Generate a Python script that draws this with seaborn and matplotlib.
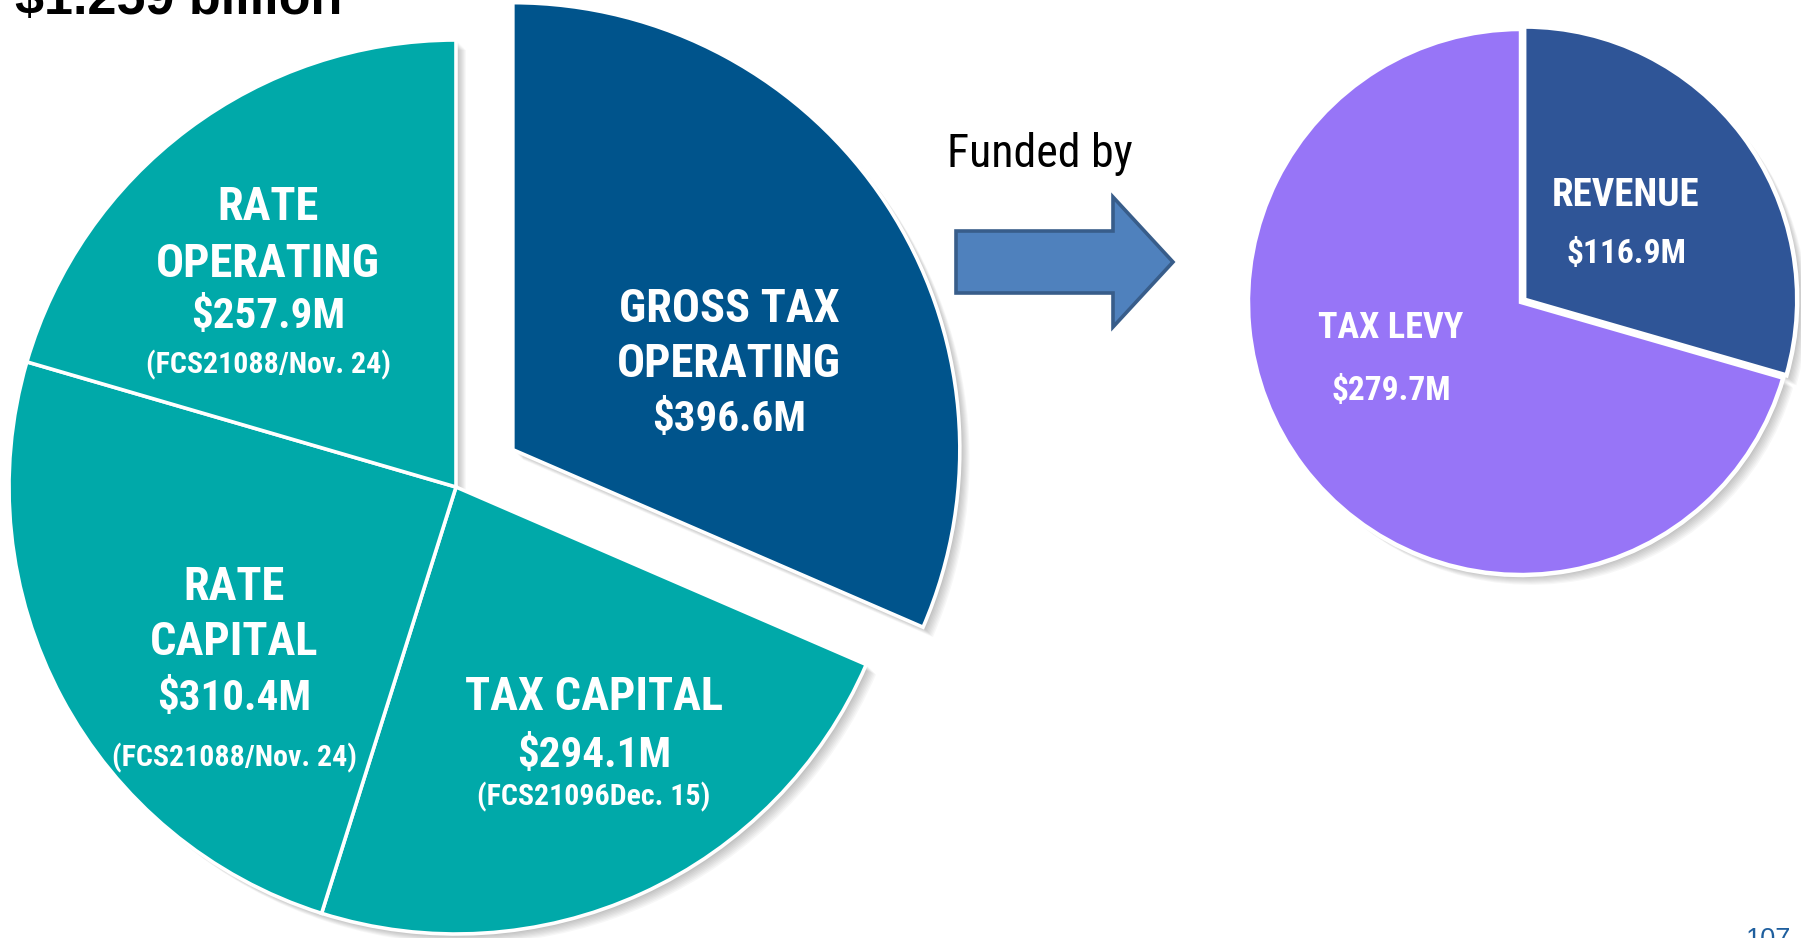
import matplotlib
matplotlib.use("Agg")
import matplotlib.pyplot as plt
import matplotlib.patches as mpatches
import seaborn as sns

# ---- data -------------------------------------------------------------
title_text = "$1.259 billion"
page_number = "107"
link_text = "Funded by"

spend_names = [["GROSS TAX", "OPERATING"], ["TAX CAPITAL"], ["RATE", "CAPITAL"], ["RATE", "OPERATING"]]
spend_values = [396.6, 294.1, 310.4, 257.9]
spend_notes = ["", "(FCS21096Dec. 15)", "(FCS21088/Nov. 24)", "(FCS21088/Nov. 24)"]

fund_names = ["REVENUE", "TAX LEVY"]
fund_values = [116.9, 279.7]

# ---- style ------------------------------------------------------------
sns.set_theme(style="white")
plt.rcParams["font.family"] = ["Roboto Condensed", "DejaVu Sans"]
ARIAL = ["Liberation Sans", "DejaVu Sans"]

spend_colors = ["#00548C", "#00A9A9", "#00A9A9", "#00A9A9"]
fund_colors = ["#2F5597", "#9775F7"]

W, H = 1801, 938
fig = plt.figure(figsize=(W / 100, H / 100), dpi=100)
fig.patch.set_facecolor("white")
ax = fig.add_axes([0, 0, 1, 1])


def py(y):
    """Convert a top-down pixel row to the axis y coordinate."""
    return H - y


def pie_with_shadow(values, colors, center, radius, explode, edge_lw):
    # soft drop shadow, built from stacked faint copies shifted down-right
    for k in range(1, 10):
        ax.pie(values, center=(center[0] + 1.1 * k, center[1] - 1.1 * k), radius=radius,
               explode=explode, startangle=90, counterclock=False,
               colors=["#000000"] * len(values),
               wedgeprops=dict(linewidth=0, alpha=0.03))
    wedges, _ = ax.pie(values, center=center, radius=radius, explode=explode,
                       startangle=90, counterclock=False, colors=colors,
                       wedgeprops=dict(edgecolor="white", linewidth=edge_lw))
    return wedges


# left pie: spending (explode distances are in axis units here)
pie_with_shadow(spend_values, spend_colors, center=(456, py(487)), radius=447,
                explode=[68, 0, 0, 0], edge_lw=2.6)

# right pie: funding of the gross tax operating budget
pie_with_shadow(fund_values, fund_colors, center=(1521, py(302)), radius=273,
                explode=[4, 0], edge_lw=3.2)

# arrow linking the two pies
arrow = mpatches.FancyArrow(956, py(262), 217, 0, width=62, head_width=130,
                            head_length=60, length_includes_head=True,
                            facecolor="#4F81BD", edgecolor="#385D8A", linewidth=2.6)
ax.add_patch(arrow)


def put(x, y, s, size, weight="bold", color="white", family=None, ha="center"):
    kw = {}
    if family is not None:
        kw["family"] = family
    ax.text(x, py(y), s, ha=ha, va="baseline", fontsize=size,
            fontweight=weight, color=color, **kw)


# labels inside the spending pie (x centre, baselines of lines, note baseline)
spend_layout = [
    (729, [322, 377, 431], None),
    (594, [710, 767], 805),
    (234, [600, 655, 710], 766),
    (268, [220, 277, 328], 373),
]
for names, value, note, (x, rows, note_y) in zip(spend_names, spend_values,
                                                  spend_notes, spend_layout):
    for s, y in zip(names, rows):
        put(x, y, s, 33.5)
    put(x, rows[len(names)], f"${value:.1f}M", 31)
    if note:
        put(x, note_y, note, 21.5)

# labels inside the funding pie
fund_layout = [(1626, 206, 263, 28), (1391, 338, 400, 26)]
for name, value, (x, y1, y2, size) in zip(fund_names, fund_values, fund_layout):
    put(x, y1, name, size)
    put(x, y2, f"${value:.1f}M", 24)

put(1040, 167, link_text, 33, weight="normal", color="black")
put(15, 14, title_text, 37.5, color="black", family=ARIAL, ha="left")
put(1769, 947, page_number, 19.5, weight="normal", color="#1F5F9E", family=ARIAL)

ax.set_xlim(0, W)
ax.set_ylim(0, H)
ax.set_aspect("equal", adjustable="box")
ax.axis("off")

fig.savefig("out.png", dpi=100, facecolor="white")
